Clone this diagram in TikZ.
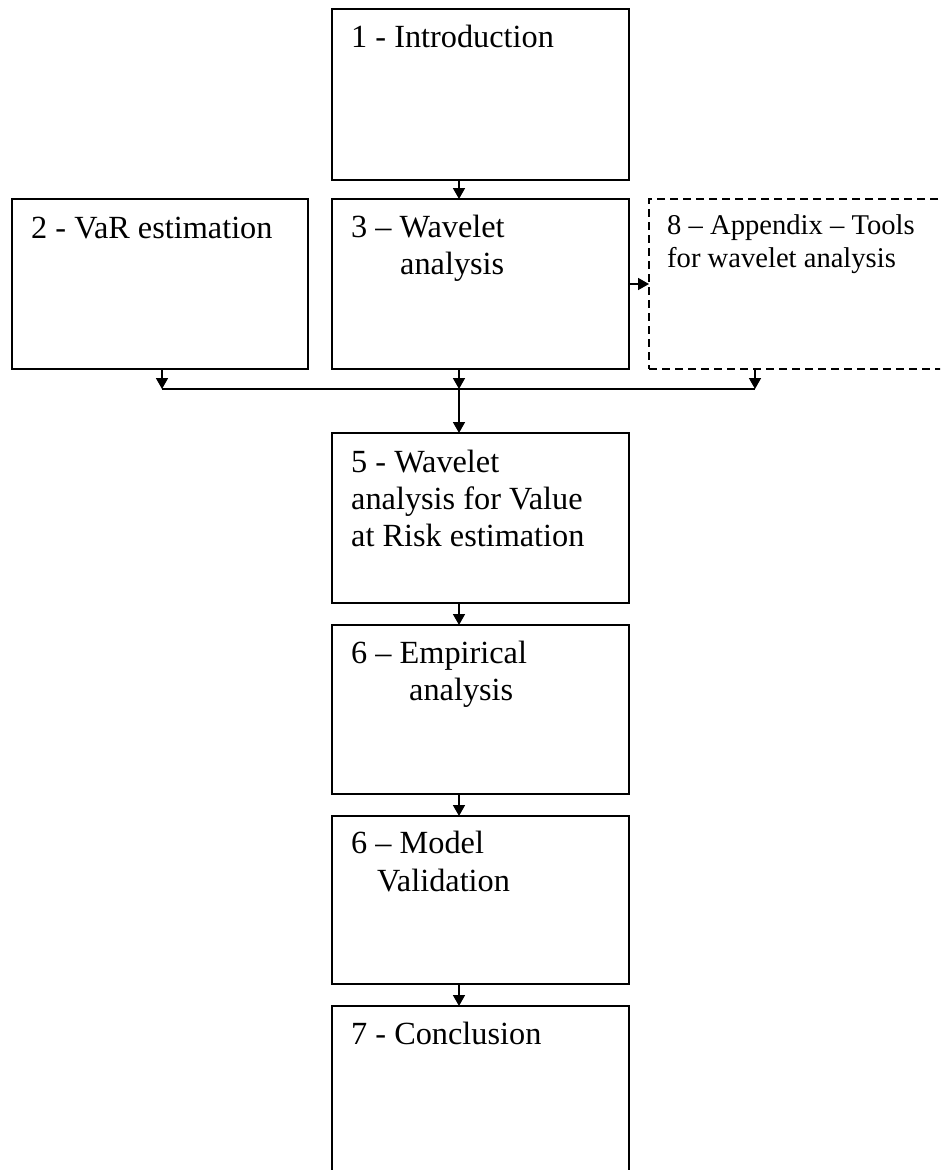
\documentclass[tikz,border=0pt]{standalone}
\usepackage{fontspec}
\setmainfont{Liberation Serif}
\usetikzlibrary{arrows.meta}
\begin{document}
\begin{tikzpicture}[x=1pt,y=-1pt,
  box/.style={draw, line width=1.6pt, inner sep=0pt, outer sep=0pt, anchor=north west},
  dbox/.style={box, dash pattern=on 8pt off 5pt},
  lbl/.style={anchor=base west, inner sep=0pt, font=\fontsize{32.3}{37}\selectfont},
  slbl/.style={anchor=base west, inner sep=0pt, font=\fontsize{28.6}{34}\selectfont},
  arr/.style={line width=1.6pt, -{Triangle[length=11pt,width=12pt]}},
  conn/.style={line width=1.6pt}]
\useasboundingbox (0,0) rectangle (940,1170);
\clip (0,0) rectangle (940,1170);
\fill[white] (0,0) rectangle (940,1170);

% chapter boxes
\node[box, minimum width=297pt, minimum height=171pt] (b1) at (332,9) {};
\node[box, minimum width=296pt, minimum height=170pt] (b2) at (12,199) {};
\node[box, minimum width=297pt, minimum height=170pt] (b3) at (332,199) {};
\node[dbox, minimum width=300pt, minimum height=170pt] (b8) at (649,199) {};
\node[box, minimum width=297pt, minimum height=170pt] (b5) at (332,433) {};
\node[box, minimum width=297pt, minimum height=169pt] (b6) at (332,625) {};
\node[box, minimum width=297pt, minimum height=168pt] (b6v) at (332,816) {};
\node[box, minimum width=297pt, minimum height=200pt] (b7) at (332,1006) {};

% box titles
\node[lbl] (t1) at (351,47) {1 - Introduction};
\node[lbl] (t2) at (31,238) {2 - VaR estimation};
\node[lbl] (t3a) at (351,237) {3 – Wavelet};
\node[lbl] (t3b) at (400,274) {analysis};
\node[slbl] (t8a) at (667,234) {8 – Appendix – Tools};
\node[slbl] (t8b) at (667,267) {for wavelet analysis};
\node[lbl] (t5a) at (351,472) {5 - Wavelet};
\node[lbl] (t5b) at (351,509) {analysis for Value};
\node[lbl] (t5c) at (351,546) {at Risk estimation};
\node[lbl] (t6a) at (351,663) {6 – Empirical};
\node[lbl] (t6b) at (409,700) {analysis};
\node[lbl] (t6c) at (351,853) {6 – Model};
\node[lbl] (t6d) at (377,891) {Validation};
\node[lbl] (t7) at (351,1044) {7 - Conclusion};

% junction points of the collecting line
\coordinate (cx) at (459,0);
\coordinate (jl) at (162,389);
\coordinate (jm) at (459,389);
\coordinate (jr) at (755,389);

% connectors
\draw[arr] (b1.south -| cx) -- (b3.north -| cx);
\draw[arr] (b3.east) -- (b8.west);
\draw[conn] (jl) -- (jr);
\draw[arr] (b2.south -| jl) -- (jl);
\draw[arr] (b3.south -| jm) -- (jm);
\draw[arr] (b8.south -| jr) -- (jr);
\draw[arr] (jm) -- (b5.north -| jm);
\draw[arr] (b5.south -| cx) -- (b6.north -| cx);
\draw[arr] (b6.south -| cx) -- (b6v.north -| cx);
\draw[arr] (b6v.south -| cx) -- (b7.north -| cx);
\end{tikzpicture}
\end{document}
